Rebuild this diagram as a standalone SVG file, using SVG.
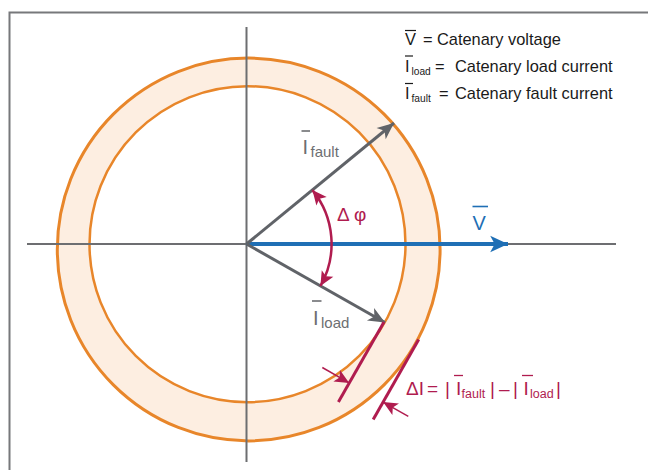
<svg xmlns="http://www.w3.org/2000/svg" width="648" height="470" viewBox="0 0 648 470">
  <style>
    .ax{stroke:#6d6e71;stroke-width:2;fill:none}
    .ph{stroke:#606368;stroke-width:3;fill:none}
    .rd{stroke:#b01c4f;fill:none}
    .t{font-family:"Liberation Sans",Arial,sans-serif}
    .lg{font-size:16.4px;fill:#1a1a1a}
    .lgs{font-size:10.2px;fill:#1a1a1a}
    .di{font-size:19px}
    .dis{font-size:12.5px}
  </style>
  <defs>
    <marker id="ag" markerUnits="userSpaceOnUse" markerWidth="20" markerHeight="20" refX="0" refY="0" viewBox="-16 -8 18 16" orient="auto">
      <path d="M0,0 L-15,-6.5 L-11,0 L-15,6.5 Z" fill="#606368"/>
    </marker>
    <marker id="ab" markerUnits="userSpaceOnUse" markerWidth="20" markerHeight="20" refX="0" refY="0" viewBox="-16 -8 18 16" orient="auto">
      <path d="M0,0 L-16,-7.5 L-12,0 L-16,7.5 Z" fill="#1f6fb5"/>
    </marker>
    <marker id="ar" markerUnits="userSpaceOnUse" markerWidth="20" markerHeight="20" refX="0" refY="0" viewBox="-16 -8 18 16" orient="auto-start-reverse">
      <path d="M0,0 L-13,-6 L-10,0 L-13,6 Z" fill="#b01c4f"/>
    </marker>
  </defs>

  <g id="frame">
    <path d="M9.5,470 V12.5 H648" fill="none" stroke="#77787b" stroke-width="2"/>
  </g>

  <g id="ring">
    <circle cx="248.7" cy="249.5" r="191.4" fill="#fdeee1" stroke="#e8862a" stroke-width="3"/>
    <circle cx="247.5" cy="244.2" r="158" fill="#ffffff" stroke="#e8862a" stroke-width="2.5"/>
  </g>

  <g id="axes">
    <line class="ax" x1="27" y1="244" x2="616" y2="244"/>
    <line class="ax" x1="246.5" y1="27" x2="246.5" y2="462"/>
  </g>

  <g id="connectors">
    <line id="v-phasor" x1="246.5" y1="244" x2="508" y2="244" stroke="#1f6fb5" stroke-width="4" marker-end="url(#ab)"/>
    <line id="fault-phasor" class="ph" x1="246.5" y1="244" x2="394" y2="123" marker-end="url(#ag)"/>
    <line id="load-phasor" class="ph" x1="246.5" y1="244" x2="385" y2="322.5" marker-end="url(#ag)"/>
    <path id="dphi-arc" class="rd" stroke-width="2.5" d="M312.4,190.1 A85,85 0 0 1 320.4,286" marker-start="url(#ar)" marker-end="url(#ar)"/>
    <line class="rd" stroke-width="3" x1="384" y1="322" x2="338.4" y2="402.1"/>
    <line class="rd" stroke-width="3" x1="418.7" y1="339.6" x2="373.2" y2="419.5"/>
    <line class="rd" stroke-width="1.5" x1="322.3" y1="367.5" x2="349.2" y2="382.9" marker-end="url(#ar)"/>
    <line class="rd" stroke-width="1.5" x1="408.3" y1="416.4" x2="383.1" y2="402.1" marker-end="url(#ar)"/>
  </g>

  <g id="label-v">
    <line x1="472.5" y1="206.5" x2="488" y2="206.5" stroke="#1f6fb5" stroke-width="1.6"/>
    <text class="t" x="472.5" y="229.5" font-size="20" fill="#1f6fb5">V</text>
  </g>

  <g id="label-fault" fill="#6d6e71">
    <line x1="301.5" y1="131" x2="310" y2="131" stroke="#6d6e71" stroke-width="1.6"/>
    <text class="t" x="302.5" y="153.5" font-size="20">I</text>
    <text class="t" x="310.5" y="156.5" font-size="15">fault</text>
  </g>

  <g id="label-load" fill="#6d6e71">
    <line x1="312" y1="301" x2="321.5" y2="301" stroke="#6d6e71" stroke-width="1.6"/>
    <text class="t" x="313" y="325" font-size="20">I</text>
    <text class="t" x="321" y="328" font-size="15">load</text>
  </g>

  <g id="label-dphi">
    <text class="t" x="337" y="221" font-size="19" fill="#b01c4f">Δ φ</text>
  </g>

  <g id="label-di" fill="#b01c4f">
    <text class="t di" x="406" y="395">ΔI</text>
    <text class="t di" x="427" y="395">=</text>
    <text class="t di" x="445" y="395">|</text>
    <line x1="454" y1="375.5" x2="463" y2="375.5" stroke="#b01c4f" stroke-width="1.3"/>
    <text class="t di" x="456" y="395">I</text>
    <text class="t dis" x="461.5" y="397.5">fault</text>
    <text class="t di" x="490" y="395">|</text>
    <text class="t di" x="499" y="395">–</text>
    <text class="t di" x="513" y="395">|</text>
    <line x1="522" y1="375.5" x2="533" y2="375.5" stroke="#b01c4f" stroke-width="1.3"/>
    <text class="t di" x="523.5" y="395">I</text>
    <text class="t dis" x="530" y="397.5">load</text>
    <text class="t di" x="556" y="395">|</text>
  </g>

  <g id="legend">
    <line x1="405" y1="30.5" x2="416" y2="30.5" stroke="#1a1a1a" stroke-width="1.2"/>
    <text class="t lg" x="405" y="45">V</text>
    <text class="t lg" x="423" y="45">=</text>
    <text class="t lg" x="437" y="45">Catenary voltage</text>
    <line x1="405" y1="56" x2="413" y2="56" stroke="#1a1a1a" stroke-width="1.2"/>
    <text class="t lg" x="405" y="72">I</text>
    <text class="t lgs" x="411.5" y="75">load</text>
    <text class="t lg" x="435" y="72">=</text>
    <text class="t lg" x="455" y="72">Catenary load current</text>
    <line x1="405" y1="83.5" x2="413" y2="83.5" stroke="#1a1a1a" stroke-width="1.2"/>
    <text class="t lg" x="405" y="99">I</text>
    <text class="t lgs" x="411.5" y="102">fault</text>
    <text class="t lg" x="439" y="99">=</text>
    <text class="t lg" x="455" y="99">Catenary fault current</text>
  </g>
</svg>
